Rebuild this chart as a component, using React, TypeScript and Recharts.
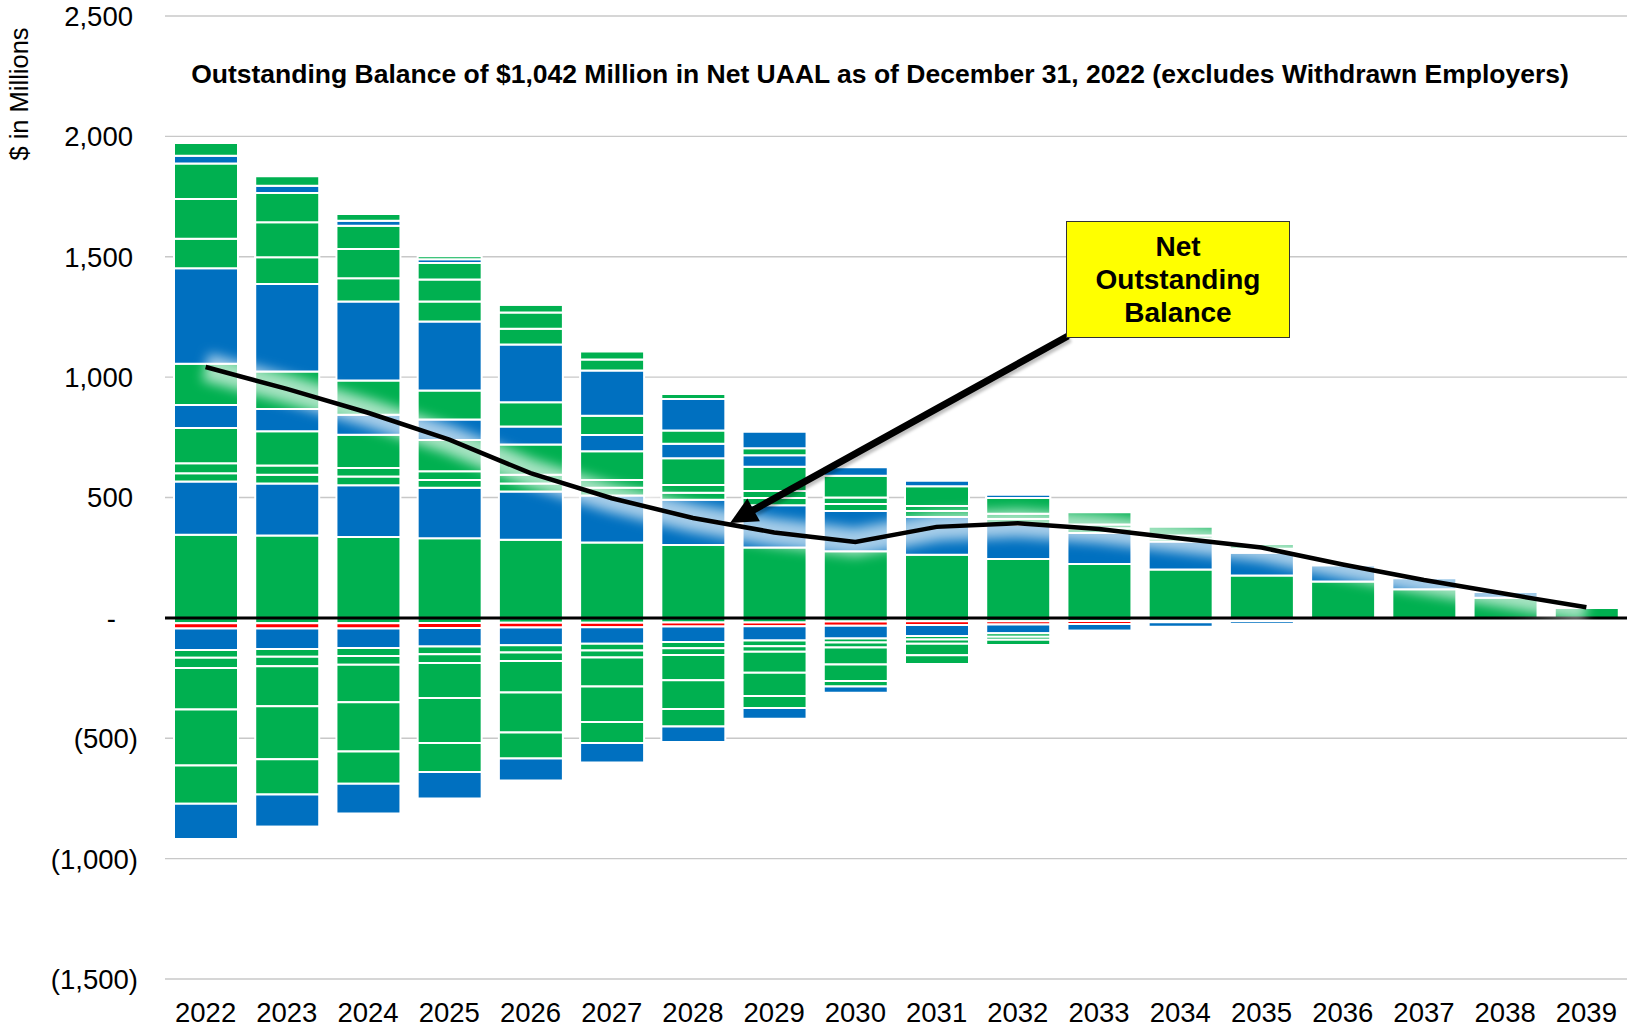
import React from 'react';
import { ComposedChart, Bar, Line, XAxis, YAxis, CartesianGrid, ReferenceLine } from 'recharts';

// ---- categories ----
const years = ['2022', '2023', '2024', '2025', '2026', '2027', '2028', '2029', '2030', '2031', '2032', '2033', '2034', '2035', '2036', '2037', '2038', '2039'];

// ---- positive amortization layers (bottom to top), $ millions ----
const p1 = [345, 342, 336, 331, 324, 313, 303, 292, 277, 262, 245, 224, 201, 176, 151, 119, 84, 41];
const p2 = [221, 216, 215, 209, 201, 195, 188, 176, 167, 157, 141, 129, 116, 94, 68, 46, 23, 0];
const p3 = [35, 36, 36, 33, 33, 32, 29, 30, 29, 25, 25, 19, 13, 8, 8, 0, 0, 0];
const p4 = [41, 39, 36, 36, 36, 33, 32, 29, 27, 21, 21, 16, 12, 9, 0, 0, 0, 0];
const p5 = [147, 142, 138, 130, 126, 119, 111, 101, 90, 82, 66, 51, 37, 20, 0, 0, 0, 0];
const p6 = [95, 93, 83, 85, 75, 68, 60, 47, 36, 23, 13, 0, 0, 0, 0, 0, 0, 0];
const p7 = [172, 155, 142, 120, 101, 80, 55, 30, 0, 0, 0, 0, 0, 0, 0, 0, 0, 0];
const p8 = [396, 364, 328, 287, 240, 187, 131, 68, 0, 0, 0, 0, 0, 0, 0, 0, 0, 0];
const p9 = [123, 111, 97, 83, 65, 46, 21, 0, 0, 0, 0, 0, 0, 0, 0, 0, 0, 0];
const p10 = [165, 145, 121, 91, 67, 33, 0, 0, 0, 0, 0, 0, 0, 0, 0, 0, 0, 0];
const p11 = [147, 122, 97, 69, 33, 0, 0, 0, 0, 0, 0, 0, 0, 0, 0, 0, 0, 0];
const p12 = [33, 30, 21, 16, 8, 0, 0, 0, 0, 0, 0, 0, 0, 0, 0, 0, 0, 0];
const p13 = [53, 39, 28, 12, 0, 0, 0, 0, 0, 0, 0, 0, 0, 0, 0, 0, 0, 0];

// ---- negative amortization layers (from zero downward), $ millions ----
const n1 = [-22, -22, -22, -21, -20, -20, -19, -19, -15, -14, -14, -13, -12, -7, 0, 0, 0, 0];
const n2 = [-22, -22, -22, -21, -20, -19, -17, -16, -18, -16, -14, -12, -6, -7, 0, 0, 0, 0];
const n3 = [-89, -85, -81, -77, -74, -68, -64, -59, -53, -45, -36, -28, -19, -11, 0, 0, 0, 0];
const n4 = [-33, -32, -33, -32, -30, -29, -26, -24, -16, -15, -14, -5, 0, 0, 0, 0, 0, 0];
const n5 = [-42, -40, -37, -36, -35, -29, -28, -23, -21, -17, -13, 0, 0, 0, 0, 0, 0, 0];
const n6 = [-173, -166, -155, -146, -131, -120, -105, -87, -71, -48, -22, 0, 0, 0, 0, 0, 0, 0];
const n7 = [-232, -220, -205, -187, -166, -147, -120, -96, -68, -37, 0, 0, 0, 0, 0, 0, 0, 0];
const n8 = [-159, -147, -134, -120, -108, -88, -72, -50, -23, 0, 0, 0, 0, 0, 0, 0, 0, 0];
const n9 = [-146, -134, -124, -110, -91, -81, -65, -45, -26, 0, 0, 0, 0, 0, 0, 0, 0, 0];
const n10 = [-9, -8, 0, 0, 0, 0, 0, 0, 0, 0, 0, 0, 0, 0, 0, 0, 0, 0];

// ---- net outstanding balance line ----
const netBalance = [1042, 951, 852, 740, 601, 497, 415, 355, 315, 378, 393, 369, 330, 292, 222, 157, 100, 44];

// ---- axis ticks ----
const yTicks = [-1500, -1000, -500, 0, 500, 1000, 1500, 2000, 2500];

const GREEN = '#00B050';
const BLUE = '#0070C0';
const RED = '#FF0000';
const FONT = '"Liberation Sans", Arial, Helvetica, sans-serif';

const layers = [
  { key: 'p1', values: p1, color: GREEN },
  { key: 'p2', values: p2, color: BLUE },
  { key: 'p3', values: p3, color: GREEN },
  { key: 'p4', values: p4, color: GREEN },
  { key: 'p5', values: p5, color: GREEN },
  { key: 'p6', values: p6, color: BLUE },
  { key: 'p7', values: p7, color: GREEN },
  { key: 'p8', values: p8, color: BLUE },
  { key: 'p9', values: p9, color: GREEN },
  { key: 'p10', values: p10, color: GREEN },
  { key: 'p11', values: p11, color: GREEN },
  { key: 'p12', values: p12, color: BLUE },
  { key: 'p13', values: p13, color: GREEN },
  { key: 'n1', values: n1, color: GREEN },
  { key: 'n2', values: n2, color: RED },
  { key: 'n3', values: n3, color: BLUE },
  { key: 'n4', values: n4, color: GREEN },
  { key: 'n5', values: n5, color: GREEN },
  { key: 'n6', values: n6, color: GREEN },
  { key: 'n7', values: n7, color: GREEN },
  { key: 'n8', values: n8, color: GREEN },
  { key: 'n9', values: n9, color: BLUE },
  { key: 'n10', values: n10, color: RED },
];

const data = years.map((year, i) => {
  const row: Record<string, any> = { year, net: netBalance[i] };
  layers.forEach((l) => {
    row[l.key] = l.values[i];
  });
  return row;
});

const YTick = (props: any) => {
  const { x, y, payload } = props;
  const v = payload.value as number;
  let label: string;
  let dx = 0;
  if (v === 0) {
    label = '-';
    dx = -22;
  } else if (v < 0) {
    label = `(${Math.abs(v).toLocaleString('en-US')})`;
  } else {
    label = v.toLocaleString('en-US');
    dx = -5;
  }
  return (
    <text x={x + dx} y={y} dy="0.36em" textAnchor="end" fontSize={27.5} fontFamily={FONT} fill="#000">
      {label}
    </text>
  );
};

const XTick = (props: any) => {
  const { x, y, payload } = props;
  return (
    <text x={x} y={y} dy="0.74em" textAnchor="middle" fontSize={27.5} fontFamily={FONT} fill="#000">
      {payload.value}
    </text>
  );
};

// annotation arrow geometry (pixel overlay)
const arrowStart = { x: 1068, y: 336 };
const arrowTip = { x: 730, y: 523 };
const headLen = 27;
const headHalf = 13;

const Arrow = () => {
  const dx = arrowTip.x - arrowStart.x;
  const dy = arrowTip.y - arrowStart.y;
  const len = Math.sqrt(dx * dx + dy * dy);
  const ux = dx / len;
  const uy = dy / len;
  const bx = arrowTip.x - ux * headLen;
  const by = arrowTip.y - uy * headLen;
  const px = -uy;
  const py = ux;
  const pts = `${arrowTip.x},${arrowTip.y} ${bx + px * headHalf},${by + py * headHalf} ${bx - px * headHalf},${by - py * headHalf}`;
  return (
    <svg width={1633} height={1031} style={{ position: 'absolute', left: 0, top: 0, pointerEvents: 'none' }}>
      <line x1={arrowStart.x + 2} y1={arrowStart.y + 3} x2={bx + 2} y2={by + 3} stroke="rgba(0,0,0,0.25)" strokeWidth={7} filter="url(#shadowBlur)" />
      <line x1={arrowStart.x} y1={arrowStart.y} x2={bx + ux * 2} y2={by + uy * 2} stroke="#000" strokeWidth={7} />
      <polygon points={pts} fill="#000" />
    </svg>
  );
};

export default function App() {
  return (
    <div style={{ position: 'absolute', left: 0, top: 0, width: 1633, height: 1031, background: '#fff', fontFamily: FONT }}>
      <svg width={0} height={0} style={{ position: 'absolute' }}>
        <defs>
          <filter id="glowBlur" filterUnits="userSpaceOnUse" x={0} y={0} width={1633} height={1031}>
            <feGaussianBlur stdDeviation={6} />
          </filter>
          <filter id="shadowBlur" filterUnits="userSpaceOnUse" x={0} y={0} width={1633} height={1031}>
            <feGaussianBlur stdDeviation={1.5} />
          </filter>
        </defs>
      </svg>
      <style>{`.glow-line path { filter: url(#glowBlur); }`}</style>
      <ComposedChart
        width={1633}
        height={1031}
        data={data}
        stackOffset="sign"
        margin={{ top: 16, right: 6, bottom: 2, left: 0 }}
        barSize={64}
      >
        <CartesianGrid vertical={false} stroke="#C8C8C8" strokeWidth={1.3} />
        <XAxis
          dataKey="year"
          axisLine={false}
          tickLine={false}
          tickSize={0}
          tickMargin={23}
          height={50}
          interval={0}
          tick={<XTick />}
        />
        <YAxis
          type="number"
          domain={[-1500, 2500]}
          ticks={yTicks}
          interval={0}
          axisLine={false}
          tickLine={false}
          tickSize={0}
          tickMargin={27}
          width={165}
          tick={<YTick />}
        />
        {layers.map((l) => (
          <Bar
            key={l.key}
            dataKey={l.key}
            stackId="s"
            fill={l.color}
            stroke="#fff"
            strokeWidth={2}
            isAnimationActive={false}
          />
        ))}
        <ReferenceLine y={0} stroke="#000" strokeWidth={3} />
        <Line
          dataKey="net"
          type="linear"
          className="glow-line"
          stroke="#fff"
          strokeOpacity={0.65}
          strokeWidth={28}
          dot={false}
          activeDot={false}
          isAnimationActive={false}
        />
        <Line
          dataKey="net"
          type="linear"
          stroke="#000"
          strokeWidth={4.5}
          dot={false}
          activeDot={false}
          isAnimationActive={false}
        />
      </ComposedChart>

      <div
        style={{
          position: 'absolute',
          left: 180,
          width: 1400,
          top: 58,
          textAlign: 'center',
          fontWeight: 'bold',
          fontSize: 26.5,
          lineHeight: '32px',
          color: '#000',
          whiteSpace: 'nowrap',
        }}
      >
        Outstanding Balance of $1,042 Million in Net UAAL as of December 31, 2022 (excludes Withdrawn Employers)
      </div>

      <div
        style={{
          position: 'absolute',
          left: 19 - 80,
          top: 94 - 15,
          width: 160,
          height: 30,
          lineHeight: '30px',
          textAlign: 'center',
          fontSize: 25.5,
          color: '#000',
          transform: 'rotate(-90deg)',
          whiteSpace: 'nowrap',
        }}
      >
        $ in Millions
      </div>

      <Arrow />

      <div
        style={{
          position: 'absolute',
          left: 1066,
          top: 221,
          width: 224,
          height: 117,
          boxSizing: 'border-box',
          background: '#FFFF00',
          border: '1.5px solid #333',
          display: 'flex',
          alignItems: 'center',
          justifyContent: 'center',
          textAlign: 'center',
          fontWeight: 'bold',
          fontSize: 28,
          lineHeight: '33px',
          color: '#000',
        }}
      >
        Net
        <br />
        Outstanding
        <br />
        Balance
      </div>
    </div>
  );
}
